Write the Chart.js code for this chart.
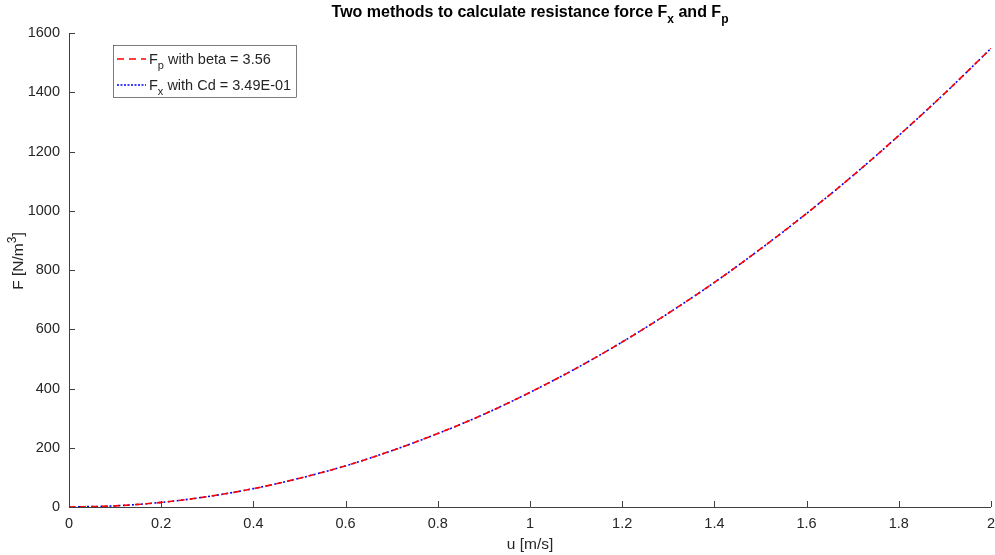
<!DOCTYPE html>
<html>
<head>
<meta charset="utf-8">
<script src="https://cdn.jsdelivr.net/npm/chart.js@4"></script>
<style>
html,body{margin:0;padding:0;background:#fff;}
#wrap{width:995px;height:555px;position:relative;}
</style>
</head>
<body>
<div id="wrap"><canvas id="c" width="995" height="555"></canvas></div>
<script>
// Velocity u [m/s]
const uValues = [0, 0.1, 0.2, 0.3, 0.4, 0.5, 0.6, 0.7, 0.8, 0.9, 1.0, 1.1, 1.2, 1.3, 1.4, 1.5, 1.6, 1.7, 1.8, 1.9, 2.0];
// F_p with beta = 3.56
const fpValues = [0, 3.9, 15.5, 35, 62, 97, 139, 190, 248, 313, 387, 468, 557, 654, 758, 871, 991, 1118, 1254, 1397, 1548];
// F_x with Cd = 3.49E-01
const fxValues = [0, 3.9, 15.5, 35, 62, 97, 139, 190, 248, 313, 387, 468, 557, 654, 758, 871, 991, 1118, 1254, 1397, 1548];
const xTicks = [0, 0.2, 0.4, 0.6, 0.8, 1, 1.2, 1.4, 1.6, 1.8, 2];
const yTicks = [0, 200, 400, 600, 800, 1000, 1200, 1400, 1600];

const FONT = 'Arial, "Liberation Sans", Helvetica, sans-serif';
const TXT = '#262626';

function toPts(xs, ys){ return xs.map((x,i)=>({x:x, y:ys[i]})); }

function richWidth(ctx, parts, size, bold){
  let w = 0;
  for (const [t,m] of parts){
    ctx.font = (bold?'bold ':'') + (m? Math.round(size*0.75):size) + 'px ' + FONT;
    w += ctx.measureText(t).width;
  }
  return w;
}
function richDraw(ctx, parts, x, y, size, bold){
  ctx.textBaseline = 'alphabetic';
  ctx.textAlign = 'left';
  for (const [t,m] of parts){
    const s = m ? Math.round(size*0.75) : size;
    ctx.font = (bold?'bold ':'') + s + 'px ' + FONT;
    const dy = m===1 ? size*0.35 : (m===2 ? -size*0.45 : 0);
    ctx.fillText(t, x, y + dy);
    x += ctx.measureText(t).width;
  }
}

const decorPlugin = {
  id: 'decor',
  afterDraw(chart){
    const ctx = chart.ctx;
    const xs = chart.scales.x, ys = chart.scales.y;
    const ca = chart.chartArea;
    ctx.save();
    ctx.strokeStyle = '#404040';
    ctx.lineWidth = 1;
    ctx.beginPath();
    ctx.moveTo(Math.round(ca.left)+0.5, ca.top);
    ctx.lineTo(Math.round(ca.left)+0.5, Math.round(ca.bottom)+0.5);
    ctx.lineTo(ca.right, Math.round(ca.bottom)+0.5);
    ctx.stroke();
    ctx.beginPath();
    for (const v of xTicks){
      const px = Math.round(xs.getPixelForValue(v))+0.5;
      ctx.moveTo(px, Math.round(ca.bottom));
      ctx.lineTo(px, Math.round(ca.bottom)-6);
    }
    for (const v of yTicks){
      const py = Math.round(ys.getPixelForValue(v))+0.5;
      ctx.moveTo(Math.round(ca.left), py);
      ctx.lineTo(Math.round(ca.left)+6, py);
    }
    ctx.stroke();

    ctx.fillStyle = '#000';
    const tParts = [['Two methods to calculate resistance force F',0],['x',1],[' and F',0],['p',1]];
    const tw = richWidth(ctx, tParts, 16, true);
    const cx = (ca.left + ca.right)/2;
    richDraw(ctx, tParts, cx - tw/2, 17, 16, true);

    ctx.fillStyle = TXT;
    ctx.font = '15.5px ' + FONT;
    ctx.textAlign = 'center';
    ctx.textBaseline = 'alphabetic';
    ctx.fillText('u [m/s]', cx, 549);

    const yParts = [['F [N/m',0],['3',2],[']',0]];
    const yw = richWidth(ctx, yParts, 15.5, false);
    ctx.save();
    ctx.translate(23, 261);
    ctx.rotate(-Math.PI/2);
    richDraw(ctx, yParts, -yw/2, 0, 15.5, false);
    ctx.restore();

    const lx = 113.5, ly = 45.5, lw = 183, lh = 52;
    ctx.fillStyle = '#fff';
    ctx.fillRect(lx, ly, lw, lh);
    ctx.strokeStyle = '#262626';
    ctx.lineWidth = 0.6;
    ctx.strokeRect(lx, ly, lw, lh);
    const items = [
      {color:'#ff0000', dash:[7,5], parts:[['F',0],['p',1],[' with beta = 3.56',0]], y:59},
      {color:'#0000ff', dash:[2,1.5], parts:[['F',0],['x',1],[' with Cd = 3.49E-01',0]], y:85}
    ];
    for (const it of items){
      ctx.strokeStyle = it.color;
      ctx.lineWidth = 1.6;
      ctx.setLineDash(it.dash);
      ctx.beginPath();
      ctx.moveTo(117, it.y);
      ctx.lineTo(146, it.y);
      ctx.stroke();
      ctx.setLineDash([]);
      ctx.fillStyle = TXT;
      richDraw(ctx, it.parts, 149, it.y + 5, 14.5, false);
    }
    ctx.restore();
  }
};

new Chart(document.getElementById('c'), {
  type: 'line',
  data: {
    datasets: [
      {
        label: 'F_p with beta = 3.56',
        data: toPts(uValues, fpValues),
        borderColor: '#ff0000',
        borderWidth: 1.6,
        borderDash: [6,5],
        pointRadius: 0,
        cubicInterpolationMode: 'monotone',
        fill: false
      },
      {
        label: 'F_x with Cd = 3.49E-01',
        data: toPts(uValues, fxValues),
        borderColor: '#0000ff',
        borderWidth: 1.6,
        borderDash: [2,2.5],
        pointRadius: 0,
        cubicInterpolationMode: 'monotone',
        fill: false
      }
    ]
  },
  options: {
    responsive: false,
    animation: false,
    events: [],
    layout: { padding: { top: 33, right: 0, left: 0, bottom: 0 } },
    plugins: { legend: { display: false }, title: { display: false }, tooltip: { enabled: false } },
    scales: {
      x: {
        type: 'linear',
        min: 0, max: 2,
        border: { display: false },
        grid: { display: false, drawTicks: false },
        afterBuildTicks(s){ s.ticks = xTicks.map(v=>({value:v})); },
        afterFit(s){ s.height = 48; s.paddingRight = 4; },
        ticks: {
          color: TXT,
          font: { family: FONT, size: 14.5 },
          padding: 8,
          maxRotation: 0,
          autoSkip: false,
          callback: v => String(Math.round(v*10)/10)
        }
      },
      y: {
        type: 'linear',
        min: 0, max: 1600,
        border: { display: false },
        grid: { display: false, drawTicks: false },
        afterBuildTicks(s){ s.ticks = yTicks.map(v=>({value:v})); },
        afterFit(s){ s.width = 69; },
        ticks: {
          color: TXT,
          font: { family: FONT, size: 14.5 },
          padding: 9,
          autoSkip: false,
          callback: v => String(v)
        }
      }
    }
  },
  plugins: [decorPlugin]
});
</script>
</body>
</html>
